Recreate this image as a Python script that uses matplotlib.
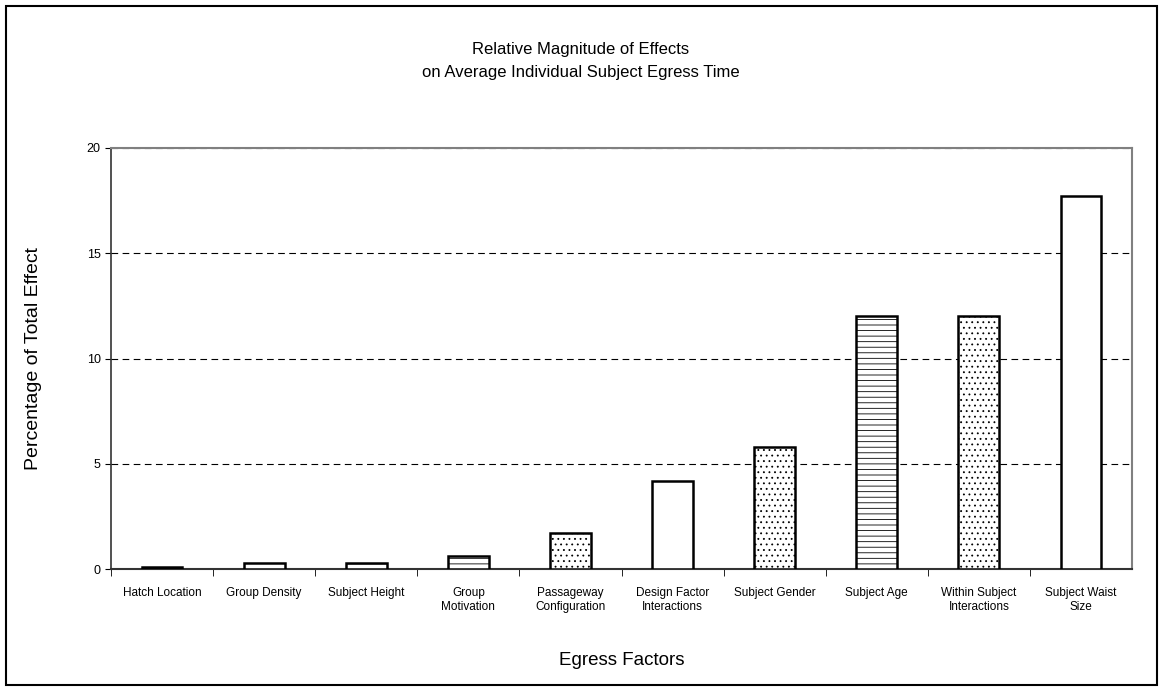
import matplotlib.pyplot as plt
from matplotlib.patches import Rectangle

plt.rcParams['font.family'] = ['Liberation Sans', 'DejaVu Sans']
plt.rcParams['hatch.linewidth'] = 0.6

factors = ['Hatch Location', 'Group Density', 'Subject Height', 'Group\nMotivation',
           'Passageway\nConfiguration', 'Design Factor\nInteractions', 'Subject Gender',
           'Subject Age', 'Within Subject\nInteractions', 'Subject Waist\nSize']
effects = [0.1, 0.3, 0.3, 0.6, 1.7, 4.2, 5.8, 12.0, 12.0, 17.7]
hatches = ['', '', '---', '---', '...', '', '...', '---', '...', '']
fills = ['black', 'white', 'white', 'white', 'white', 'white', 'white', 'white', 'white', 'white']

fig = plt.figure(figsize=(11.62, 6.9), dpi=100)
ax = fig.add_axes([111/1162, 1 - 569/690, (1132-111)/1162, (569-148)/690])

# frame around whole chart
fig.patches.append(Rectangle((6/1162, 5/690), 1151/1162, 679/690, transform=fig.transFigure,
                             fill=False, edgecolor='black', linewidth=1.5))

x = list(range(len(factors)))
for i in x:
    ax.bar(i, effects[i], width=0.4, color=fills[i], edgecolor='black',
           linewidth=1.8, hatch=hatches[i], zorder=3)

ax.set_xlim(-0.5, len(factors) - 0.5)
ax.set_ylim(0, 20)
ax.set_yticks([0, 5, 10, 15, 20])
ax.yaxis.grid(True, linestyle=(0, (6, 4)), color='black', linewidth=0.8)
ax.set_axisbelow(True)

ax.set_xticks(x)
ax.set_xticklabels(factors, fontsize=8.5)
ax.tick_params(axis='x', length=0, pad=13)
ax.set_xticks([i + 0.5 for i in x[:-1]] + [-0.5], minor=True)
ax.tick_params(axis='x', which='minor', length=5, direction='out', color='black')
ax.tick_params(axis='y', labelsize=9, length=4, direction='out')

for s in ['top', 'right']:
    ax.spines[s].set_color('gray')
    ax.spines[s].set_linewidth(1.5)
ax.spines['left'].set_color('#333333')
ax.spines['bottom'].set_color('#333333')
ax.spines['left'].set_linewidth(1.2)
ax.spines['bottom'].set_linewidth(1.5)

ax.set_ylabel('Percentage of Total Effect', fontsize=14, labelpad=32)
ax.set_xlabel('Egress Factors', fontsize=13.5, labelpad=28)
fig.text(0.5, 1 - 61/690, 'Relative Magnitude of Effects\non Average Individual Subject Egress Time',
         ha='center', va='center', fontsize=12, linespacing=1.6)

fig.savefig('out.png', dpi=100)
